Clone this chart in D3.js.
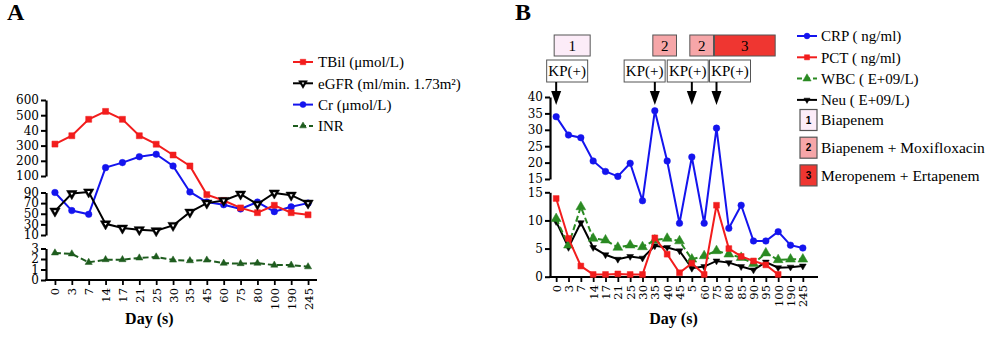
<!DOCTYPE html>
<meta charset="utf-8">
<script src="https://d3js.org/d3.v7.min.js"></script>
<style>
  body { margin: 0; background: #fff; }
  text { font-family: "Liberation Serif", "Times New Roman", serif; }
</style>
<body>
<div id="chart"></div>
<script>
// ---- panel A: liver / kidney markers ----
const daysA = ["0","3","7","14","17","21","25","30","35","45","60","75","80","100","190","245"];
const tbil = [310,365,473,525,473,365,309,238,166,86,75,61,52,66,52,48];
const egfr = [55,88,91,31,23,20,18,28,53,70,75,87,68,89,85,70];
const cr   = [90,56,49,155,188,227,243,166,91,72,67,59,72,54,63,70];
const inr  = [2.58,2.49,1.68,1.94,1.94,2.1,2.2,1.9,1.84,1.9,1.6,1.56,1.6,1.42,1.42,1.26];
const ticksAtop = ["600","500","40","300","200","100"];
const ticksAmid = ["90","70","50","30","10"];
const ticksAlow = ["3","2","1","0"];
const legendA = ["TBil (μmol/L)","eGFR (ml/min. 1.73m²)","Cr (μmol/L)","INR"];

// ---- panel B: infection markers ----
const daysB = ["0","3","7","14","17","21","25","30","35","40","45","5","60","75","80","85","90","95","100","190","245"];
const crp = [34.0,28.4,27.6,20.5,17.3,15.8,19.8,13.5,35.8,20.5,9.5,21.7,9.5,30.5,8.6,12.7,6.35,6.35,8.0,5.6,5.1];
const pct = [13.9,6.8,1.9,0.4,0.4,0.5,0.4,0.4,6.9,4.0,0.7,2.4,0.4,12.7,5.0,3.6,2.8,2.1,0.4,null,null];
const wbc = [10.3,5.6,12.4,6.8,6.5,5.2,5.6,5.3,6.5,6.8,6.35,3.1,3.7,4.6,4.0,3.4,2.3,4.2,3.0,3.1,3.1];
const neu = [9.8,5.2,9.6,5.2,3.9,3.1,3.6,3.3,5.5,5.2,4.6,1.5,1.8,2.8,2.5,1.8,1.2,2.6,1.6,1.7,1.9];
const ticksBtop = ["40","35","30","25","20","15"];
const ticksBlow = ["15","10","5","0"];
const legendB = ["CRP ( ng/ml)","PCT ( ng/ml)","WBC ( E+09/L)","Neu ( E+09/L)"];
// antibiotic courses: label, first day, last day
const regimens = [
  {id: "1", name: "Biapenem", from: "0", to: "14"},
  {id: "2", name: "Biapenem + Moxifloxacin", from: "35", to: "45"},
  {id: "2", name: "Biapenem + Moxifloxacin", from: "5", to: "75"},
  {id: "3", name: "Meropenem + Ertapenem", from: "75", to: "100"}
];
const kpPositive = ["0","35","5","75"];

const RED = "#f21d1d", BLUE = "#1414ee", BLACK = "#000", GREEN_A = "#1e5c1e", GREEN_B = "#2a8a22";
const regimenFill = {"1": "#fcecf8", "2": "#f6a6a8", "3": "#ef3631"};
// left edge of each KP(+) label box relative to its arrow
const kpBoxShift = [-9.5, -30.7, -24.6, -7];

const svg = d3.select("#chart").append("svg")
  .attr("width", 1000)
  .attr("height", 338);

const sym = {
  square: d3.symbol().type(d3.symbolSquare),
  circle: d3.symbol().type(d3.symbolCircle),
  triangle: d3.symbol().type(d3.symbolTriangle)
};

function marker(g, type, size, color, cx, cy, opts = {}) {
  const tr = `translate(${cx},${cy})` + (opts.flip ? " rotate(180)" : "");
  g.append("path")
    .attr("d", sym[type].size(size)())
    .attr("fill", color)
    .attr("stroke", color)
    .attr("stroke-width", 0.5)
    .attr("transform", tr);
  if (opts.hollow) {
    // small white notch in the middle of the eGFR triangles
    g.append("path")
      .attr("d", sym[type].size(size * 0.08)())
      .attr("fill", "#fff")
      .attr("transform", tr);
  }
}

function series(g, x, y, days, values, s) {
  const pts = days.map((d, i) => ({day: d, v: values[i]}));
  g.append("path")
    .datum(pts)
    .attr("fill", "none")
    .attr("stroke", s.color)
    .attr("stroke-width", 2)
    .attr("stroke-dasharray", s.dash || null)
    .attr("d", d3.line().defined(d => d.v != null).x(d => x(d.day)).y(d => y(d.v)));
  pts.filter(d => d.v != null).forEach(d =>
    marker(g, s.type, s.size, s.color, x(d.day), y(d.v), s));
}

function yAxis(g, scale, values, labels, xpos) {
  const ax = g.append("g")
    .attr("transform", `translate(${xpos},0)`)
    .call(d3.axisLeft(scale).tickValues(values).tickFormat((d, i) => labels[i])
      .tickSize(5).tickSizeOuter(0).tickPadding(2));
  ax.select(".domain").attr("stroke-width", 2.2);
  ax.selectAll(".tick line").attr("stroke-width", 2);
  ax.selectAll("text").attr("font-size", 12).attr("fill", "#000")
    .style("font-family", "DejaVu Serif");
}

function xAxis(g, scale, ypos, x0, x1) {
  g.append("line").attr("x1", x0).attr("x2", x1).attr("y1", ypos).attr("y2", ypos)
    .attr("stroke", "#000").attr("stroke-width", 2.2);
  const ax = g.append("g")
    .attr("transform", `translate(0,${ypos})`)
    .call(d3.axisBottom(scale).tickSize(5).tickSizeOuter(0));
  ax.select(".domain").remove();
  ax.selectAll(".tick line").attr("stroke-width", 1.8);
  ax.selectAll("text")
    .attr("font-size", 11.5).attr("fill", "#000")
    .style("font-family", "DejaVu Serif")
    .style("text-anchor", "end")
    .attr("x", -8).attr("y", 0).attr("dy", "0.35em")
    .attr("transform", "rotate(-90)");
}

// ================= panel A =================
const gA = svg.append("g");
const xA = d3.scalePoint().domain(daysA).range([46, 317]).padding(0.53);
const yAtop = d3.scaleLinear().domain([100, 600]).range([176, 100]);
const yAmid = d3.scaleLinear().domain([10, 90]).range([235, 192.5]);
const yAlow = d3.scaleLinear().domain([0, 3]).range([280, 248.5]);
const yA = v => v >= 100 ? yAtop(v) : yAmid(v);

yAxis(gA, yAtop, [600,500,400,300,200,100], ticksAtop, 46);
yAxis(gA, yAmid, [90,70,50,30,10], ticksAmid, 46);
yAxis(gA, yAlow, [3,2,1,0], ticksAlow, 46);
xAxis(gA, xA, 280, 45, 317);

series(gA, xA, yAlow, daysA, inr, {color: GREEN_A, type: "triangle", size: 22, dash: "6,3"});
series(gA, xA, yA, daysA, cr, {color: BLUE, type: "circle", size: 34});
series(gA, xA, yA, daysA, tbil, {color: RED, type: "square", size: 36});
series(gA, xA, yA, daysA, egfr, {color: BLACK, type: "triangle", size: 48, hollow: true, flip: true});

gA.append("text").attr("x", 7).attr("y", 20).attr("font-size", 24).attr("font-weight", "bold").text("A");
gA.append("text").attr("x", xA("21") + 10).attr("y", 324).attr("text-anchor", "middle")
  .attr("font-size", 16).attr("font-weight", "bold").text("Day (s)");

const legA = [
  {color: RED, type: "square", size: 30},
  {color: BLACK, type: "triangle", size: 34, flip: true, hollow: true},
  {color: BLUE, type: "circle", size: 28},
  {color: GREEN_A, type: "triangle", size: 20, dash: "5,3"}
];
legA.forEach((s, i) => {
  const cy = 62 + i * 21.3;
  gA.append("line").attr("x1", 293).attr("x2", 313).attr("y1", cy).attr("y2", cy)
    .attr("stroke", s.color).attr("stroke-width", 2).attr("stroke-dasharray", s.dash || null);
  marker(gA, s.type, s.size, s.color, 303, cy, s);
  gA.append("text").attr("x", 318).attr("y", cy).attr("dy", "0.35em")
    .attr("font-size", 15).text(legendA[i]);
});

// ================= panel B =================
const gB = svg.append("g");
const xB = d3.scalePoint().domain(daysB).range([550, 809]).padding(0.5);
const yBtop = d3.scaleLinear().domain([15, 40]).range([179, 97]);
const yBlow = d3.scaleLinear().domain([0, 15]).range([276.7, 192.3]);
const yB = v => v > 15 ? yBtop(v) : yBlow(v);

yAxis(gB, yBtop, [40,35,30,25,20,15], ticksBtop, 550);
yAxis(gB, yBlow, [15,10,5,0], ticksBlow, 550);
xAxis(gB, xB, 277, 549, 818);

series(gB, xB, yB, daysB, neu, {color: BLACK, type: "triangle", size: 20, flip: true});
series(gB, xB, yB, daysB, wbc, {color: GREEN_B, type: "triangle", size: 42, dash: "6,3"});
series(gB, xB, yB, daysB, pct, {color: RED, type: "square", size: 34});
series(gB, xB, yB, daysB, crp, {color: BLUE, type: "circle", size: 34});

gB.append("text").attr("x", 515).attr("y", 20).attr("font-size", 24).attr("font-weight", "bold").text("B");
gB.append("text").attr("x", xB("45") - 6).attr("y", 324).attr("text-anchor", "middle")
  .attr("font-size", 16).attr("font-weight", "bold").text("Day (s)");

// regimen bars above the plot
regimens.forEach(r => {
  const x0 = xB(r.from) - 2, x1 = xB(r.to) - 3;
  gB.append("rect").attr("x", x0).attr("y", 35).attr("width", x1 - x0).attr("height", 21)
    .attr("fill", regimenFill[r.id]).attr("stroke", "#555").attr("stroke-width", 1);
  gB.append("text").attr("x", (x0 + x1) / 2).attr("y", 46).attr("dy", "0.35em")
    .attr("text-anchor", "middle").attr("font-size", 15).text(r.id);
});

// KP(+) culture results with arrows
kpPositive.forEach((d, i) => {
  const cx = xB(d);
  const bx = cx + kpBoxShift[i];
  gB.append("rect").attr("x", bx).attr("y", 60).attr("width", 41).attr("height", 22)
    .attr("fill", "#fff").attr("stroke", "#555").attr("stroke-width", 1);
  gB.append("text").attr("x", bx + 20.5).attr("y", 71).attr("dy", "0.35em")
    .attr("text-anchor", "middle").attr("font-size", 15).text("KP(+)");
  gB.append("line").attr("x1", cx).attr("x2", cx).attr("y1", 82).attr("y2", 94)
    .attr("stroke", "#000").attr("stroke-width", 2);
  gB.append("path").attr("d", `M${cx - 5},91 L${cx + 5},91 L${cx},105 Z`).attr("fill", "#000");
});

const legB = [
  {color: BLUE, type: "circle", size: 26},
  {color: RED, type: "square", size: 26},
  {color: GREEN_B, type: "triangle", size: 30, dash: "5,3"},
  {color: BLACK, type: "triangle", size: 16, flip: true}
];
legB.forEach((s, i) => {
  const cy = 36 + i * 21.3;
  gB.append("line").attr("x1", 797).attr("x2", 817).attr("y1", cy).attr("y2", cy)
    .attr("stroke", s.color).attr("stroke-width", 2).attr("stroke-dasharray", s.dash || null);
  marker(gB, s.type, s.size, s.color, 807, cy, s);
  gB.append("text").attr("x", 821).attr("y", cy).attr("dy", "0.35em")
    .attr("font-size", 15).text(legendB[i]);
});

const regimenKeys = regimens.filter((r, i) => regimens.findIndex(q => q.id === r.id) === i);
regimenKeys.forEach((r, i) => {
  const cy = 120 + i * 27.7;
  gB.append("rect").attr("x", 800).attr("y", cy - 10.5).attr("width", 17).attr("height", 21)
    .attr("fill", regimenFill[r.id]).attr("stroke", "#555").attr("stroke-width", 1.2);
  gB.append("text").attr("x", 808.5).attr("y", cy).attr("dy", "0.35em").attr("text-anchor", "middle")
    .attr("font-size", 10).attr("font-weight", "bold").style("font-family", "Liberation Sans, Arial, sans-serif")
    .text(r.id);
  gB.append("text").attr("x", 821).attr("y", cy).attr("dy", "0.35em")
    .attr("font-size", 15.5).text(r.name);
});
</script>
</body>
